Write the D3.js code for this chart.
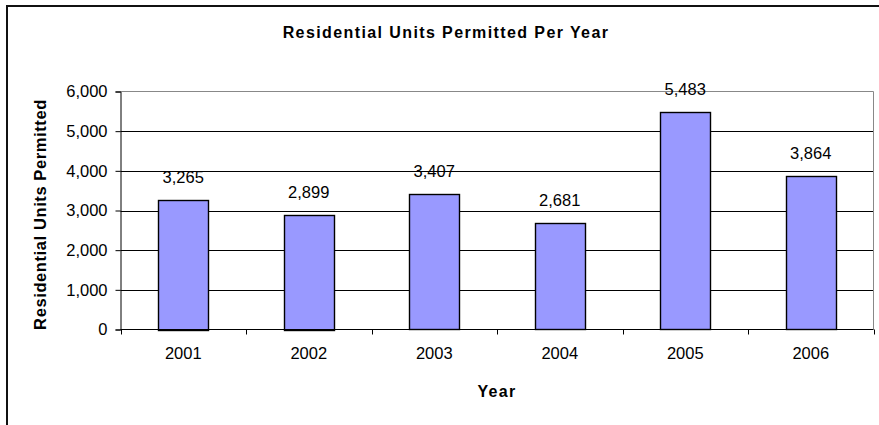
<!DOCTYPE html>
<meta charset="utf-8">
<style>
body { margin: 0; background: #fff; }
text { font-family: Arial, "Liberation Sans", sans-serif; }
</style>
<svg width="879" height="425"></svg>
<script src="https://cdn.jsdelivr.net/npm/d3@7"></script>
<script>
var years = ["2001", "2002", "2003", "2004", "2005", "2006"]
var units = [3265, 2899, 3407, 2681, 5483, 3864]
var yTicks = [0, 1000, 2000, 3000, 4000, 5000, 6000]

var svg = d3.select("svg")
var pLeft = 120.5, pRight = 873.5, pTop = 91.5, pBottom = 329.5
var font = "Arial, 'Liberation Sans', sans-serif"

// chart frame
svg.append("rect")
  .attr("x", 7).attr("y", 6)
  .attr("width", 900).attr("height", 450)
  .attr("fill", "none").attr("stroke", "#111").attr("stroke-width", 2)

var x = d3.scaleBand().domain(years).range([pLeft, pRight]).paddingInner(0.6).paddingOuter(0.3)
var xb = d3.scaleBand().domain(years).range([pLeft, pRight])
var y = d3.scaleLinear().domain([0, 6000]).range([pBottom, pTop])

// gridlines
svg.append("g").selectAll("line")
  .data(yTicks.slice(1, -1))
  .enter().append("line")
    .attr("x1", pLeft).attr("x2", pRight)
    .attr("y1", function(d) { return Math.round(y(d)) + 0.5 })
    .attr("y2", function(d) { return Math.round(y(d)) + 0.5 })
    .attr("stroke", "#000").attr("stroke-width", 1)

// plot area border top / right
svg.append("path")
  .attr("d", "M" + pLeft + "," + pTop + "H" + pRight + "V" + pBottom)
  .attr("fill", "none").attr("stroke", "#888").attr("stroke-width", 1)

// bars
svg.append("g").selectAll("rect")
  .data(units)
  .enter().append("rect")
    .attr("x", function(d, i) { return Math.round(x(years[i])) + 0.5 })
    .attr("y", function(d) { return Math.round(y(d)) + 0.5 })
    .attr("width", Math.round(x.bandwidth()))
    .attr("height", function(d) { return Math.round(pBottom - y(d)) })
    .attr("fill", "#9999ff").attr("stroke", "#000").attr("stroke-width", 1.4)

// value labels
svg.append("g").selectAll("text")
  .data(units)
  .enter().append("text")
    .attr("x", function(d, i) { return x(years[i]) + x.bandwidth() / 2 })
    .attr("y", function(d) { return y(d) - 17 })
    .attr("text-anchor", "middle")
    .attr("font-size", 16.5)
    .text(d3.format(","))

// y axis
var yAxis = svg.append("g")
  .attr("transform", "translate(" + pLeft + ",0)")
  .call(d3.axisLeft(y).tickValues(yTicks).tickFormat(d3.format(",")).tickSize(5).tickPadding(8))
yAxis.select(".domain").attr("stroke", "#000")
yAxis.selectAll("text").attr("font-size", 16.5).attr("fill", "#000").attr("font-family", font)

// x axis
var xAxis = svg.append("g")
  .attr("transform", "translate(0," + pBottom + ")")
  .call(d3.axisBottom(xb).tickSize(0).tickPadding(18))
xAxis.select(".domain").attr("d", "M" + pLeft + ",0H" + pRight).attr("stroke", "#000")
xAxis.selectAll("text").attr("font-size", 16.5).attr("fill", "#000").attr("font-family", font)
xAxis.selectAll(".bound")
  .data(years.concat(["end"]))
  .enter().append("line")
    .attr("x1", function(d, i) { return Math.round(pLeft + i * xb.bandwidth()) + 0.5 })
    .attr("x2", function(d, i) { return Math.round(pLeft + i * xb.bandwidth()) + 0.5 })
    .attr("y1", 0).attr("y2", 5)
    .attr("stroke", "#000")

// titles
svg.append("text")
  .attr("x", 446).attr("y", 38)
  .attr("text-anchor", "middle")
  .attr("font-size", 16).attr("font-weight", "bold").attr("letter-spacing", 1.4)
  .text("Residential Units Permitted Per Year")

svg.append("text")
  .attr("x", (pLeft + pRight) / 2).attr("y", 397)
  .attr("text-anchor", "middle")
  .attr("font-size", 16).attr("font-weight", "bold").attr("letter-spacing", 1.3)
  .text("Year")

svg.append("text")
  .attr("transform", "translate(46," + ((pTop + pBottom) / 2 + 4) + ") rotate(-90)")
  .attr("text-anchor", "middle")
  .attr("font-size", 16.5).attr("font-weight", "bold").attr("letter-spacing", 0.6)
  .text("Residential Units Permitted")
</script>
